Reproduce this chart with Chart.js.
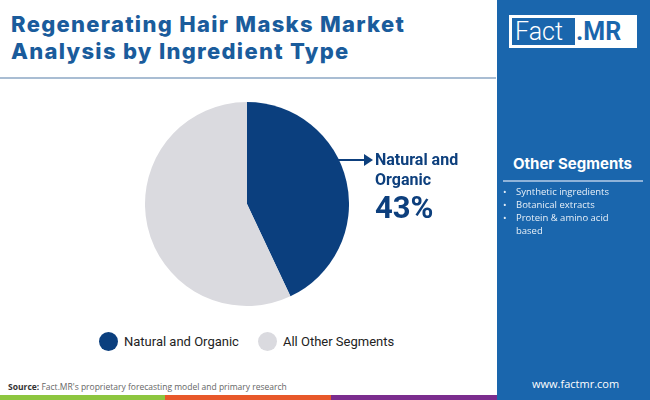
<!DOCTYPE html>
<html><head><meta charset="utf-8">
<script src="https://cdn.jsdelivr.net/npm/chart.js@4/dist/chart.umd.min.js"></script>
<style>
html,body{margin:0;padding:0;background:#fff;}
#wrap{position:relative;width:650px;height:400px;overflow:hidden;font-family:Roboto,"Open Sans",sans-serif;}
.ttl{position:absolute;left:11px;font-family:Inter,"Open Sans",sans-serif;font-weight:800;font-size:22px;line-height:26px;color:#1a5c9c;letter-spacing:1.3px;white-space:nowrap;}
#sep{position:absolute;left:0;top:77px;width:496px;height:2px;background:#a9bdd3;}
#panel{position:absolute;left:497px;top:0;width:153px;height:400px;background:#1a66ad;}
#logo{position:absolute;left:12px;top:15px;width:128px;height:33px;background:#fff;}
#logo .f{position:absolute;left:3px;top:3px;width:63px;height:27px;background:#1a66ad;color:#fff;font-family:Roboto,sans-serif;font-weight:300;font-size:25px;line-height:27px;padding-left:3px;box-sizing:border-box;}
#logo .m{position:absolute;left:67px;top:3px;color:#1a66ad;font-family:Roboto,sans-serif;font-weight:700;font-size:25px;line-height:27px;}
#oseg{position:absolute;left:16px;top:154px;color:#fff;font-family:Inter,sans-serif;font-weight:700;font-size:15px;}
#oline{position:absolute;left:6px;top:180px;width:140px;height:2px;background:#8fb3d9;}
#olist{position:absolute;left:4px;top:185px;margin:0;padding:0;list-style:none;color:#e8f0f8;font-size:9.5px;line-height:13px;font-family:"Open Sans",sans-serif;}
#olist li{position:relative;padding-left:15px;width:120px;}
#olist li:before{content:"•";position:absolute;left:2px;}
#web{position:absolute;left:35px;top:376px;color:#fff;font-size:11px;font-family:"Open Sans",sans-serif;}
#src{position:absolute;left:8px;top:381px;font-size:8.5px;color:#666;font-family:"Open Sans",sans-serif;}
#src b{color:#333;}
.bar{position:absolute;top:395px;height:5px;}
#cv{position:absolute;left:145px;top:102px;}
#arrow{position:absolute;left:338px;top:153px;}
#lab{position:absolute;left:375px;top:150px;color:#0d3f7d;font-family:Roboto,sans-serif;font-weight:700;font-size:16px;line-height:20px;}
#pct{position:absolute;left:375px;top:190px;color:#0d3f7d;font-family:Roboto,sans-serif;font-weight:700;font-size:31px;line-height:36px;}
#legend{position:absolute;left:99px;top:332px;display:flex;font-size:13px;color:#222;font-family:Roboto,sans-serif;}
#legend .it{display:flex;align-items:center;margin-right:19px;}
#legend .dot{width:19px;height:19px;border-radius:50%;margin-right:6px;}
</style></head>
<body>
<div id="wrap">
<div class="ttl" style="top:11px">Regenerating Hair Masks Market</div>
<div class="ttl" style="top:38px">Analysis by Ingredient Type</div>
<div id="sep"></div>
<canvas id="cv" width="204" height="204"></canvas>
<svg id="arrow" width="36" height="14"><line x1="0" y1="7" x2="28" y2="7" stroke="#0d3f7d" stroke-width="2"/><polygon points="26,1 35,7 26,13" fill="#0d3f7d"/></svg>
<div id="lab">Natural and<br>Organic</div>
<div id="pct"></div>
<div id="legend"></div>
<div id="panel">
  <div id="logo"><div class="f">Fact</div><div class="m">.MR</div></div>
  <div id="oseg">Other Segments</div>
  <div id="oline"></div>
  <ul id="olist"></ul>
  <div id="web">www.factmr.com</div>
</div>
<div id="src"><b>Source:</b> Fact.MR's proprietary forecasting model and primary research</div>
<div class="bar" style="left:0;width:165px;background:#8dc63f"></div>
<div class="bar" style="left:165px;width:166px;background:#e8582a"></div>
<div class="bar" style="left:331px;width:166px;background:#7b2d8e"></div>
</div>
<script>
const categories = ["Natural and Organic", "All Other Segments"];
const shares = [43, 57];
const colors = ["#0b3f7e", "#dadadf"];
const otherSegments = ["Synthetic ingredients", "Botanical extracts", "Protein & amino acid based"];

document.getElementById('pct').textContent = shares[0] + '%';
const lg = document.getElementById('legend');
categories.forEach((c,i)=>{
  const d=document.createElement('div');d.className='it';
  d.innerHTML='<span class="dot" style="background:'+colors[i]+'"></span>'+c;
  lg.appendChild(d);
});
const ol=document.getElementById('olist');
otherSegments.forEach(s=>{const li=document.createElement('li');li.textContent=s;ol.appendChild(li);});

new Chart(document.getElementById('cv'),{
  type:'pie',
  data:{labels:categories,datasets:[{data:shares,backgroundColor:colors,borderWidth:0}]},
  options:{responsive:false,animation:false,layout:{padding:0},
    plugins:{legend:{display:false},tooltip:{enabled:false}}}
});
</script>
</body></html>
